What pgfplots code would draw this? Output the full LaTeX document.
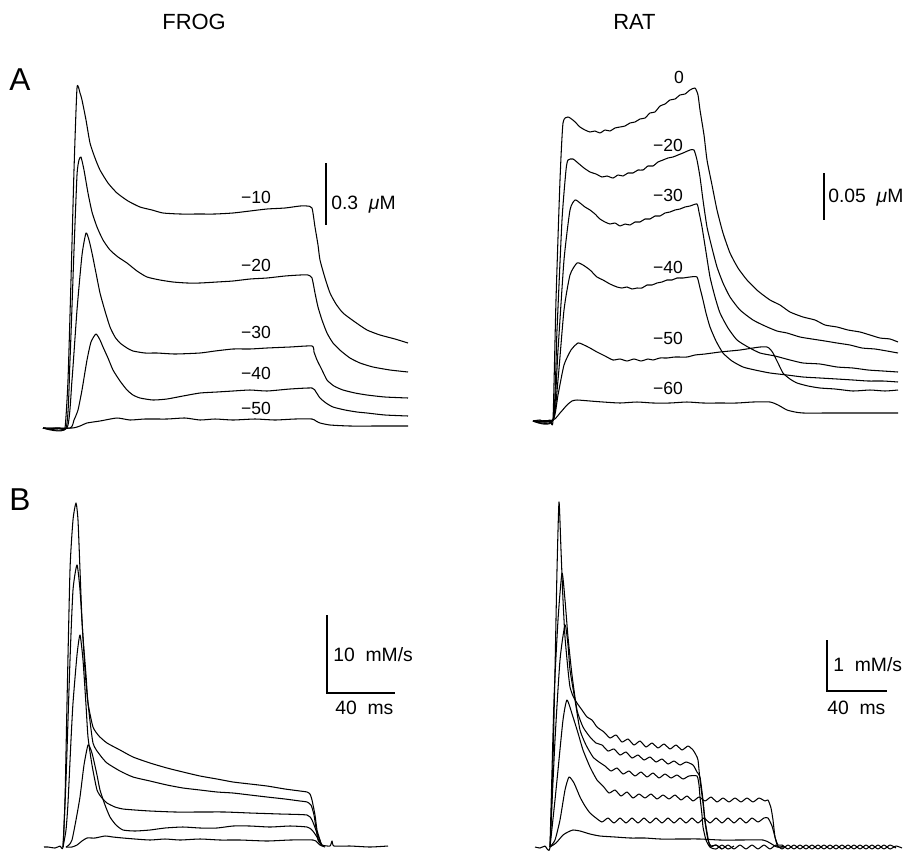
\documentclass[border=0pt]{standalone}
\usepackage{fontspec}
\setmainfont{Liberation Sans}
\usepackage{pgfplots}
\pgfplotsset{compat=1.18}

\begin{document}
\begin{tikzpicture}[
  tr/.style={black, line width=0.6pt, line join=round, smooth, tension=0.35},
  sb/.style={black, line width=0.75pt},
  lab/.style={font=\fontsize{10}{11}\selectfont, inner sep=0pt},
  sclab/.style={font=\fontsize{11}{12}\selectfont, inner sep=0pt, anchor=west},
]
\begin{axis}[
  scale only axis,
  width=18.22cm, height=17.06cm,
  xmin=0, xmax=911, ymin=0, ymax=853,
  y dir=reverse,
  hide axis, clip=false,
]
\path (axis cs:0,0) rectangle (axis cs:911,853);

% ---------- titles ----------
\node[font=\fontsize{12.5}{14}\selectfont, inner sep=0pt, anchor=west] at (axis cs:162,22) {FROG};
\node[font=\fontsize{12.5}{14}\selectfont, inner sep=0pt, anchor=west] at (axis cs:613,22) {RAT};
\node[font=\fontsize{18}{20}\selectfont, inner sep=0pt] at (axis cs:20,80) {A};
\node[font=\fontsize{18}{20}\selectfont, inner sep=0pt] at (axis cs:20,500) {B};

% ---------- FROG A ----------
\addplot[tr] coordinates {(43,428)(50,429)(55,428)(60,428)(65,428)(68,380)(71,280)(74,170)(77,88)(80,93)(82,100)(86,120)(90,143)(95,158)(100,170)(108,183)(117,193)(128,201)(140,207)(152,210)(163,213)(180,214)(200,214)(215,214)(233,213)(250,211)(267,209)(285,208)(300,206)(307,206)(312,208)(315,227)(318,245)(320,260)(325,278)(330,293)(336,304)(343,313)(355,322)(367,330)(380,335)(395,339)(408,343)};
\addplot[tr] coordinates {(43,428)(66,428)(70,360)(74,250)(77,175)(79,160)(81,157)(84,170)(88,193)(92,212)(97,227)(103,240)(110,250)(118,257)(127,263)(137,271)(147,277)(160,280)(173,282)(187,283)(200,283)(217,282)(233,281)(250,279)(267,278)(285,276)(300,275)(308,275)(312,278)(315,293)(318,307)(322,320)(327,333)(333,343)(341,351)(350,358)(360,363)(373,367)(390,370)(408,372)};
\addplot[tr] coordinates {(43,428)(67,428)(72,380)(77,310)(82,255)(86,233)(89,240)(92,253)(96,273)(100,293)(105,311)(110,327)(115,337)(120,343)(127,348)(133,351)(145,353)(157,353)(175,354)(200,353)(215,351)(233,349)(250,349)(267,348)(290,347)(312,346)(314,352)(317,360)(322,370)(327,380)(334,386)(343,390)(355,393)(367,395)(385,397)(408,398)};
\addplot[tr] coordinates {(43,428)(70,428)(74,420)(78,410)(82,390)(87,360)(91,342)(96,334)(100,340)(103,347)(108,358)(113,370)(120,381)(127,390)(133,395)(140,398)(153,400)(167,399)(183,396)(200,393)(217,392)(233,391)(250,390)(267,391)(290,389)(312,388)(316,392)(320,398)(326,403)(333,407)(345,410)(357,412)(367,413)(385,415)(408,416)};
\addplot[tr] coordinates {(43,428)(72,428)(80,426)(87,423)(100,421)(117,418)(130,420)(145,419)(167,419)(185,418)(200,420)(215,419)(233,420)(255,419)(275,420)(295,419)(312,419)(316,421)(320,423)(330,425)(350,426)(380,426)(408,426)};
\node[lab] at (axis cs:256,197) {−10};
\node[lab] at (axis cs:256,265) {−20};
\node[lab] at (axis cs:256,332) {−30};
\node[lab] at (axis cs:256,373) {−40};
\node[lab] at (axis cs:256,408) {−50};
\addplot[sb] coordinates {(326,163)(326,225)};
\node[sclab] at (axis cs:331,205) {0.3\ \ {\itshape μ}M};

% ---------- RAT A ----------
\addplot[tr] coordinates {(533,421)(540,420)(545,422)(550,420)(553,420)(556,300)(560,180)(563,123)(568,117)(574,121)(580,127)(585,130)(590,132)(595,131)(600,133)(605,130)(610,131)(615,128)(620,127)(625,126)(630,123)(635,122)(640,119)(645,118)(650,113)(655,112)(660,106)(665,104)(670,100)(675,99)(680,95)(685,94)(690,90)(695,88)(698,95)(700,110)(704,135)(707,160)(712,185)(717,210)(723,233)(730,253)(738,268)(747,280)(758,291)(770,300)(780,305)(790,312)(803,317)(815,320)(825,325)(837,327)(848,330)(860,332)(870,335)(880,338)(890,339)(898,342)};
\addplot[tr] coordinates {(533,421)(553,420)(557,330)(562,220)(566,170)(568,160)(573,159)(578,163)(584,168)(590,172)(596,174)(602,177)(607,176)(613,178)(618,175)(623,176)(628,173)(633,173)(638,170)(643,170)(648,166)(653,166)(658,162)(663,160)(668,158)(673,157)(678,155)(683,153)(690,150)(694,150)(697,160)(700,177)(703,200)(707,227)(712,248)(717,267)(723,283)(730,297)(740,310)(753,320)(765,326)(777,331)(787,333)(800,337)(812,339)(825,341)(837,343)(850,345)(862,348)(875,349)(887,351)(898,353)};
\addplot[tr] coordinates {(533,421)(553,420)(558,350)(564,260)(570,210)(575,200)(580,203)(585,207)(590,210)(595,214)(600,219)(605,222)(610,224)(615,223)(620,226)(625,224)(630,225)(635,222)(640,222)(645,219)(650,219)(655,216)(660,216)(665,213)(670,212)(675,210)(680,209)(685,207)(690,206)(697,204)(699,212)(702,227)(706,252)(710,277)(715,297)(720,313)(728,328)(737,340)(748,347)(760,353)(775,356)(790,360)(803,363)(820,364)(837,367)(853,368)(868,370)(883,371)(898,372)};
\addplot[tr] coordinates {(533,421)(553,420)(558,380)(564,310)(570,275)(577,263)(583,265)(590,270)(597,277)(603,280)(610,284)(617,287)(622,288)(627,287)(632,289)(637,288)(642,288)(647,285)(652,285)(657,283)(662,282)(667,280)(672,280)(677,278)(683,278)(690,277)(697,277)(700,288)(703,300)(706,313)(710,327)(716,341)(723,353)(732,361)(743,367)(755,370)(770,373)(787,375)(803,377)(820,378)(837,379)(853,380)(868,381)(883,381)(898,382)};
\addplot[tr] coordinates {(533,421)(553,420)(558,395)(564,365)(571,350)(578,343)(584,345)(590,348)(597,352)(605,356)(613,360)(620,359)(627,361)(634,359)(641,361)(648,359)(653,360)(660,358)(667,358)(675,357)(687,357)(695,355)(705,354)(720,352)(730,351)(740,350)(753,348)(760,347)(767,347)(770,349)(773,353)(778,363)(783,373)(790,379)(797,383)(808,386)(820,388)(835,389)(853,391)(870,390)(885,391)(898,390)};
\addplot[tr] coordinates {(533,421)(553,420)(560,413)(567,405)(572,401)(577,400)(590,401)(603,402)(620,403)(637,402)(653,403)(670,403)(687,402)(703,403)(720,403)(737,403)(753,402)(770,402)(778,405)(787,410)(795,412)(803,413)(830,413)(860,413)(898,413)};
\node[lab] at (axis cs:679,77) {0};
\node[lab] at (axis cs:668,145) {−20};
\node[lab] at (axis cs:668,195) {−30};
\node[lab] at (axis cs:668,267) {−40};
\node[lab] at (axis cs:668,338) {−50};
\node[lab] at (axis cs:668,388) {−60};
\addplot[sb] coordinates {(824,173)(824,220)};
\node[sclab] at (axis cs:828,198) {0.05\ \ {\itshape μ}M};

% ---------- FROG B ----------
\addplot[tr] coordinates {(44,847)(48,847)(55,848)(60,846)(63,847)(65,800)(67,703)(70,570)(73,520)(76,503)(78,520)(80,570)(82,620)(85,670)(88,703)(93,727)(99,736)(107,743)(120,750)(133,757)(150,763)(167,768)(183,772)(200,776)(217,779)(233,782)(250,784)(267,786)(285,789)(300,791)(307,792)(310,794)(312,800)(315,815)(317,830)(320,840)(322,845)(330,846)(332,841)(334,846)(350,846)(370,847)(388,846)};
\addplot[tr] coordinates {(63,847)(66,780)(70,660)(73,590)(77,565)(80,590)(83,637)(86,675)(88,703)(93,743)(100,755)(107,763)(120,771)(133,777)(150,781)(167,785)(183,788)(200,790)(217,792)(233,793)(250,795)(267,797)(285,799)(300,801)(307,802)(311,805)(314,815)(318,840)(323,846)};
\addplot[tr] coordinates {(63,847)(66,830)(68,803)(71,740)(73,703)(77,655)(80,635)(83,660)(86,705)(88,737)(92,765)(97,790)(102,798)(107,803)(115,807)(123,809)(135,810)(150,811)(175,812)(200,812)(225,812)(250,813)(280,814)(307,815)(312,820)(317,833)(322,846)};
\addplot[tr] coordinates {(66,847)(69,845)(72,840)(76,820)(80,797)(84,765)(88,745)(91,750)(93,757)(97,775)(100,790)(105,805)(110,817)(116,825)(123,830)(135,831)(150,830)(165,828)(183,827)(200,828)(217,828)(233,826)(250,826)(270,827)(290,826)(307,827)(312,830)(317,837)(322,846)};
\addplot[tr] coordinates {(66,847)(72,847)(77,845)(82,841)(87,838)(95,838)(105,836)(113,837)(123,838)(135,839)(150,840)(165,839)(180,840)(200,839)(220,840)(240,840)(267,841)(290,840)(313,840)(317,842)(320,845)(325,847)};
\addplot[sb] coordinates {(327,615)(327,693)(395,693)};
\node[sclab] at (axis cs:333,655) {10\ \ mM/s};
\node[sclab] at (axis cs:335,708) {40\ \ ms};

% ---------- RAT B ----------
\addplot[tr] coordinates {(535,847)(540,848)(545,846)(550,847)(553,760)(555,670)(557,570)(559,502)(561,550)(563,600)(565,637)(568,670)(570,687)(573,696)(577,703)(582,710)(587,717)(592,720)(597,727)(604,732)(610,738)(616,735)(622,742)(628,739)(634,745)(640,741)(646,747)(652,743)(658,748)(664,744)(670,749)(676,745)(682,750)(688,746)(693,750)(696,755)(698,760)(700,780)(703,803)(705,822)(708,840)(711,846)(716,845)(722,849)(728,845)(734,849)(740,845)(746,849)(752,845)(758,849)(764,845)(770,849)(776,845)(782,849)(788,845)(794,849)(800,845)(806,849)(812,845)(818,849)(824,845)(830,849)(836,845)(842,849)(848,845)(854,849)(860,845)(866,849)(872,845)(878,849)(884,845)(890,849)(896,846)(902,848)};
\addplot[tr] coordinates {(550,847)(554,700)(558,620)(562,573)(565,600)(568,637)(572,675)(577,710)(583,727)(590,737)(596,743)(602,745)(608,751)(614,749)(620,755)(626,752)(632,758)(638,755)(644,760)(650,757)(656,762)(662,759)(668,764)(674,761)(680,765)(686,762)(693,765)(697,772)(700,777)(703,800)(705,820)(708,838)(710,847)(716,849)(722,845)(728,849)(734,846)};
\addplot[tr] coordinates {(550,847)(555,740)(560,660)(565,625)(568,645)(570,670)(575,700)(580,730)(586,745)(593,757)(599,762)(605,766)(611,771)(617,768)(623,774)(629,771)(635,776)(641,772)(647,777)(653,773)(659,778)(665,774)(671,778)(677,775)(683,779)(689,776)(697,776)(699,785)(700,797)(702,815)(703,827)(706,840)(710,847)(716,845)(722,849)};
\addplot[tr] coordinates {(550,847)(555,800)(558,770)(563,720)(567,700)(573,717)(578,733)(583,750)(590,767)(597,780)(603,786)(609,793)(615,790)(621,796)(627,792)(633,798)(639,794)(645,798)(651,794)(657,799)(663,795)(669,799)(675,795)(681,800)(687,796)(693,801)(699,797)(705,801)(711,797)(717,802)(723,798)(729,802)(735,798)(741,802)(747,798)(753,802)(759,798)(765,801)(768,800)(771,808)(773,820)(775,837)(778,845)(782,845)(788,849)(794,845)(800,849)(806,845)(812,849)(818,845)(824,849)(830,845)(836,849)(842,845)(848,849)(854,845)(860,849)(866,845)(872,849)(878,845)(884,849)(890,845)(896,848)};
\addplot[tr] coordinates {(550,847)(555,840)(560,820)(565,790)(569,777)(574,783)(580,797)(585,806)(590,813)(596,818)(602,822)(608,818)(614,823)(620,818)(626,823)(632,818)(638,823)(644,818)(650,823)(656,818)(662,823)(668,818)(674,823)(680,818)(686,823)(692,818)(698,823)(704,818)(710,823)(716,818)(722,823)(728,818)(734,823)(740,818)(746,823)(752,818)(758,822)(764,818)(768,818)(772,826)(775,837)(778,847)(784,846)};
\addplot[tr] coordinates {(550,847)(556,843)(563,835)(568,832)(573,830)(580,831)(590,834)(600,836)(615,837)(630,838)(645,838)(660,839)(680,839)(700,839)(720,840)(740,840)(763,840)(770,843)(777,847)(785,847)};
\addplot[sb] coordinates {(827,640)(827,691)(887,691)};
\node[sclab] at (axis cs:833,665) {1\ \ mM/s};
\node[sclab] at (axis cs:827,708) {40\ \ ms};
\end{axis}
\end{tikzpicture}
\end{document}
